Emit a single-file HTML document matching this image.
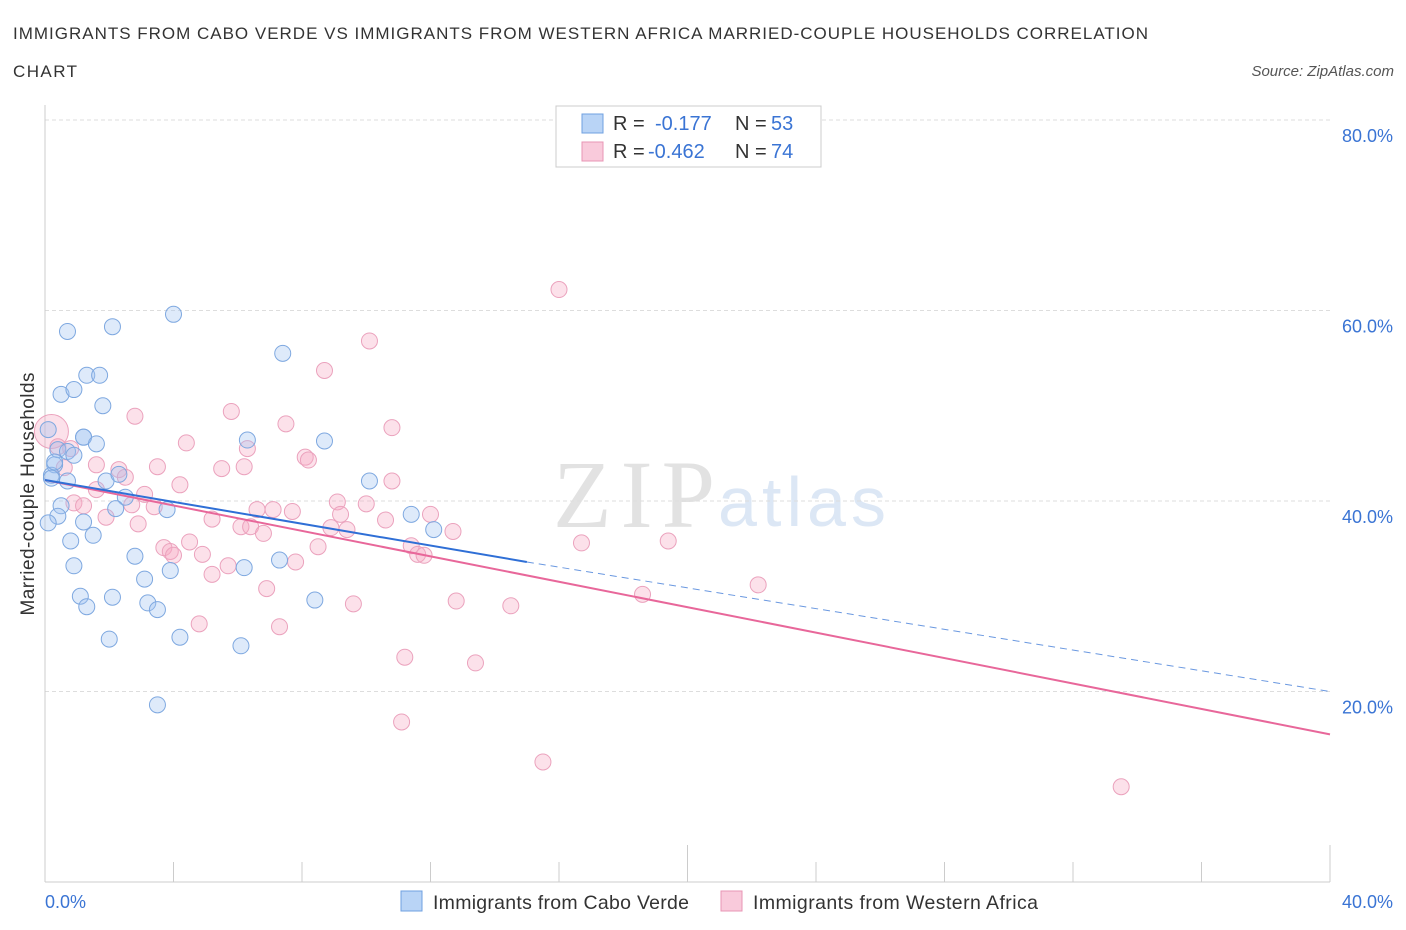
<!DOCTYPE html>
<html><head><meta charset="utf-8"><style>
body{margin:0;background:#fff;font-family:"Liberation Sans",sans-serif;}
svg{display:block}
</style></head><body>
<svg id="c" width="1406" height="930" xmlns="http://www.w3.org/2000/svg">
<text x="13" y="39" font-size="17" fill="#333" textLength="1135" lengthAdjust="spacing">IMMIGRANTS FROM CABO VERDE VS IMMIGRANTS FROM WESTERN AFRICA MARRIED-COUPLE HOUSEHOLDS CORRELATION</text>
<text x="13" y="77" font-size="17" fill="#333" textLength="64">CHART</text>
<text x="1394" y="76" font-size="15" fill="#555" font-style="italic" text-anchor="end">Source: ZipAtlas.com</text>
<text x="553" y="527" font-size="96" fill="#e2e2e2" font-family="Liberation Serif,serif" textLength="162">ZIP</text>
<text x="718" y="526" font-size="70" fill="#dce7f5" textLength="168">atlas</text>
<text x="34" y="494" font-size="19" fill="#333" text-anchor="middle" transform="rotate(-90 34 494)" textLength="243">Married-couple Households</text>
<g id="grid"></g><g id="marks"></g>
<rect x="556" y="106" width="265" height="61" fill="#fff" stroke="#ccc"/>
<rect x="582" y="114" width="21" height="19" fill="#b9d4f6" stroke="#6fa0e0"/>
<rect x="582" y="142" width="21" height="19" fill="#f9cadb" stroke="#e895b4"/>
<text y="130" font-size="20" fill="#333"><tspan x="613">R =</tspan><tspan x="655" fill="#3a74d4">-0.177</tspan><tspan x="735">N =</tspan><tspan x="771" fill="#3a74d4">53</tspan></text>
<text y="158" font-size="20" fill="#333"><tspan x="613">R =</tspan><tspan x="648" fill="#3a74d4">-0.462</tspan><tspan x="735">N =</tspan><tspan x="771" fill="#3a74d4">74</tspan></text>
<rect x="401" y="891" width="21" height="20" fill="#b9d4f6" stroke="#6fa0e0"/>
<text x="433" y="909" font-size="19.5" fill="#333" textLength="256">Immigrants from Cabo Verde</text>
<rect x="721" y="891" width="21" height="20" fill="#f9cadb" stroke="#e895b4"/>
<text x="753" y="909" font-size="19.5" fill="#333" textLength="285">Immigrants from Western Africa</text>
</svg>
<script>
const yTicks=[20,40,60,80];
const yTickLabels=["20.0%","40.0%","60.0%","80.0%"];
const xTicks=[0,4,8,12,16,20,24,28,32,36,40];
const xLabels=["0.0%","40.0%"];
const blueX=[0.1,0.3,0.2,0.4,0.7,2.1,4.0,7.4,1.3,1.7,0.5,0.9,1.8,1.2,1.2,1.6,0.7,0.9,6.3,8.7,0.3,0.2,0.7,1.9,2.3,2.5,0.5,2.2,3.8,0.4,0.1,1.2,1.5,0.8,10.1,11.4,12.1,2.8,0.9,3.1,3.9,6.2,7.3,1.1,1.3,2.1,3.2,3.5,8.4,2.0,4.2,6.1,3.5];
const blueY=[47.5,43.8,42.7,45.4,57.8,58.3,59.6,55.5,53.2,53.2,51.2,51.7,50.0,46.7,46.7,46.0,45.2,44.8,46.4,46.3,44.1,42.4,42.1,42.1,42.8,40.4,39.5,39.2,39.1,38.4,37.7,37.8,36.4,35.8,42.1,38.6,37.0,34.2,33.2,31.8,32.7,33.0,33.8,30.0,28.9,29.9,29.3,28.6,29.6,25.5,25.7,24.8,18.6];
const pinkX=[0.2,16.0,10.1,8.7,2.8,5.8,7.5,10.8,4.4,8.1,8.2,6.3,0.4,0.8,1.6,3.5,5.5,6.2,0.6,2.3,2.5,4.2,10.8,1.6,3.1,0.9,1.2,9.1,10.0,2.7,3.4,6.6,7.1,7.7,9.2,12.0,1.9,5.2,2.9,6.1,6.4,6.8,8.9,9.4,12.7,10.6,16.7,19.4,4.5,3.7,3.9,4.9,4.0,8.5,11.4,11.6,11.8,5.7,5.2,7.8,6.9,22.2,18.6,9.6,12.8,14.5,4.8,7.3,11.2,13.4,11.1,15.5,33.5];
const pinkY=[47.3,62.2,56.8,53.7,48.9,49.4,48.1,47.7,46.1,44.6,44.3,45.5,45.7,45.5,43.8,43.6,43.4,43.6,43.5,43.3,42.5,41.7,42.1,41.2,40.7,39.8,39.5,39.9,39.7,39.6,39.4,39.1,39.1,38.9,38.6,38.6,38.3,38.1,37.6,37.3,37.3,36.6,37.2,37.0,36.8,38.0,35.6,35.8,35.7,35.1,34.7,34.4,34.3,35.2,35.3,34.4,34.3,33.2,32.3,33.6,30.8,31.2,30.2,29.2,29.5,29.0,27.1,26.8,23.6,23.0,16.8,12.6,10.0];
const blueTrend=[42.2,33.6,20.0]; const blueTrendX=[0,15.0,40];
const pinkTrend=[42.2,15.5]; const pinkTrendX=[0,40];
const NS="http://www.w3.org/2000/svg";
const sx=v=>45+v/40*1285, sy=v=>882-v/20*190.5;
function mk(t,a,p){const e=document.createElementNS(NS,t);for(const k in a)e.setAttribute(k,a[k]);p.appendChild(e);return e;}
const g=document.getElementById('grid'), m=document.getElementById('marks');
yTicks.forEach((v,i)=>{
 const l=mk('line',{x1:45,x2:1330,y1:sy(v),y2:sy(v),stroke:'#ddd','stroke-dasharray':'4,3'},g);
 
 
 const t=mk('text',{x:1393,y:sy(v)+22,'font-size':18,fill:'#3a74d4','text-anchor':'end'},g);
 t.textContent=yTickLabels[i];
 
 
});
const ax=mk('line',{x1:45,x2:45,y1:105,y2:882,stroke:'#ccc'},g);


const bx=mk('line',{x1:45,x2:1330,y1:882,y2:882,stroke:'#ccc'},g);


xTicks.forEach(v=>{
 const long=(v===20||v===40);
 const l=mk('line',{x1:sx(v),x2:sx(v),y1:long?845:862,y2:882,stroke:'#ccc'},g);
 
 
});
[[0,'start',45],[40,'end',1393]].forEach((d,i)=>{
 const t=mk('text',{x:d[2],y:908,'font-size':18,fill:'#3a74d4','text-anchor':d[1]},g);
 t.textContent=xLabels[i];
 
 
});
pinkX.forEach((x,i)=>{
 const c=mk('circle',{cx:sx(x),cy:sy(pinkY[i]),r:i===0?17:8,fill:'rgba(246,170,196,0.35)',stroke:'#eba2bd','stroke-width':1},m);
 
 
});
blueX.forEach((x,i)=>{
 const c=mk('circle',{cx:sx(x),cy:sy(blueY[i]),r:8,fill:'rgba(160,196,240,0.35)',stroke:'#7ea8e0','stroke-width':1},m);
 
 
});
const pl=mk('line',{x1:sx(pinkTrendX[0]),y1:sy(pinkTrend[0]),x2:sx(pinkTrendX[1]),y2:sy(pinkTrend[1]),stroke:'#e8679a','stroke-width':2},m);


const bl=mk('line',{x1:sx(blueTrendX[0]),y1:sy(blueTrend[0]),x2:sx(blueTrendX[1]),y2:sy(blueTrend[1]),stroke:'#2f6fd6','stroke-width':2},m);


const bd=mk('line',{x1:sx(blueTrendX[1]),y1:sy(blueTrend[1]),x2:sx(blueTrendX[2]),y2:sy(blueTrend[2]),stroke:'#6a98e0','stroke-width':1,'stroke-dasharray':'7,5'},m);


</script>
</body></html>
